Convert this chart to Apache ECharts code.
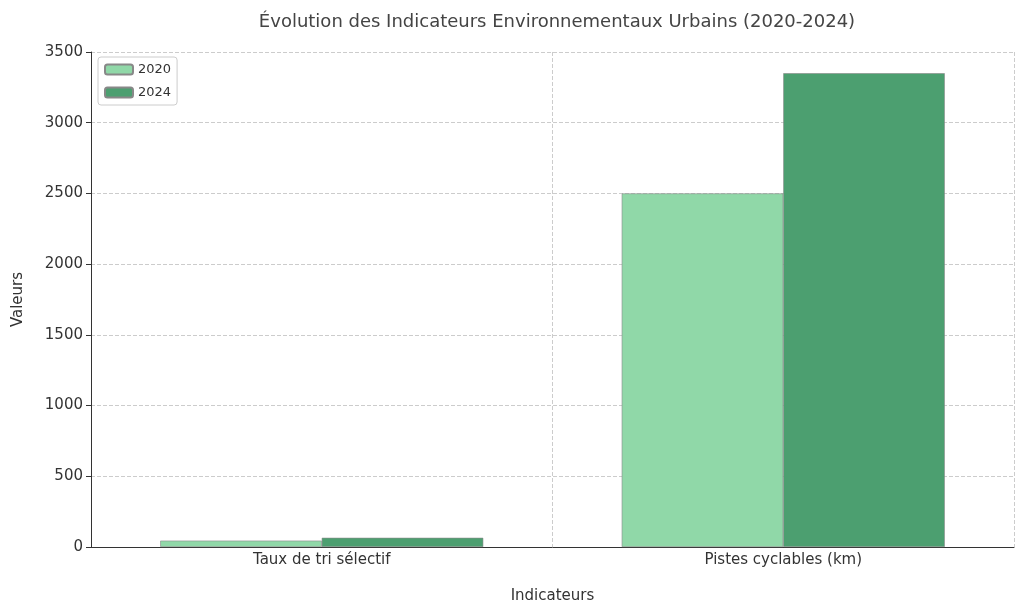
<!DOCTYPE html>
<html><head><meta charset="utf-8">
<script src="https://cdn.jsdelivr.net/npm/echarts@6/dist/echarts.min.js"></script>
<style>html,body{margin:0;padding:0;background:#fff}#c{width:1024px;height:611px}</style>
</head><body><div id="c"></div>
<script>
const categories = ["Taux de tri sélectif", "Pistes cyclables (km)"];
const values2020 = [45, 2500];
const values2024 = [65, 3350];
const yTicks = [0, 500, 1000, 1500, 2000, 2500, 3000, 3500];
const font = "DejaVu Sans";
const chart = echarts.init(document.getElementById('c'));
chart.setOption({
  animation: false,
  textStyle: {fontFamily: font},
  title: {text: "Évolution des Indicateurs Environnementaux Urbains (2020-2024)", left: 552, top: 8, textAlign: 'center',
    textStyle: {fontFamily: font, fontSize: 18, fontWeight: 'normal', color: '#444'}},
  legend: {left: 98, top: 57, orient: 'vertical', itemWidth: 28, itemHeight: 10, itemGap: 10,
    textStyle: {fontFamily: font, fontSize: 13, color: '#333'},
    borderColor: '#ccc', borderWidth: 1, borderRadius: 3, padding: [6, 6, 6, 6],
    data: ['2020', '2024']},
  grid: {left: 91, right: 10, top: 52, bottom: 64},
  xAxis: {type: 'category', data: categories, name: 'Indicateurs', nameLocation: 'middle', nameGap: 42,
    nameTextStyle: {fontFamily: font, fontSize: 15, color: '#333'},
    axisLine: {lineStyle: {color: '#333'}}, axisTick: {show: false},
    axisLabel: {fontFamily: font, fontSize: 15, color: '#333', margin: 6},
    splitLine: {show: true, interval: 0, lineStyle: {type: 'dashed', color: '#ccc'}}},
  yAxis: {type: 'value', min: 0, max: 3500, interval: 500, name: 'Valeurs', nameLocation: 'middle', nameGap: 65,
    nameTextStyle: {fontFamily: font, fontSize: 15, color: '#333'},
    axisLine: {show: true, lineStyle: {color: '#333'}}, axisTick: {show: true, length: 5, lineStyle: {color: '#333'}},
    axisLabel: {fontFamily: font, fontSize: 15, color: '#333', formatter: v => yTicks.includes(v) ? String(v) : ''},
    splitLine: {lineStyle: {type: 'dashed', color: '#ccc'}}},
  series: [
    {name: '2020', type: 'bar', data: values2020, barGap: '0%', barCategoryGap: '30%',
     itemStyle: {color: '#90d8a8', borderColor: '#888', borderWidth: 0.6}},
    {name: '2024', type: 'bar', data: values2024,
     itemStyle: {color: '#4c9f70', borderColor: '#888', borderWidth: 0.6}}
  ]
});
</script></body></html>
